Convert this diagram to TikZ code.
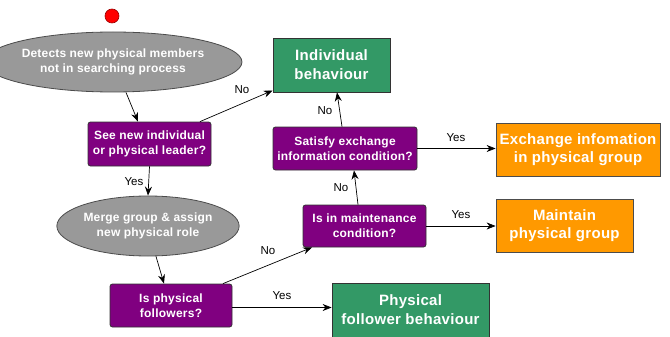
\documentclass[tikz,border=0pt]{standalone}
\usepackage{fontspec}
\setmainfont{Liberation Sans}
\usetikzlibrary{arrows.meta,shapes.geometric}
\definecolor{decpurple}{HTML}{800080}
\definecolor{actgreen}{HTML}{339966}
\definecolor{actorange}{HTML}{FF9900}
\definecolor{procgray}{HTML}{999999}
\begin{document}
\begin{tikzpicture}[x=1pt,y=-1pt,
  every node/.style={inner sep=0pt,align=center},
  proc/.style={ellipse,draw=black!70,fill=procgray,line width=0.8pt,text=white,
    font=\bfseries\fontsize{12}{15}\selectfont\addfontfeatures{LetterSpace=1.5}},
  decision/.style={rectangle,rounded corners=2.5pt,draw=black!80,fill=decpurple,line width=0.8pt,text=white,
    font=\bfseries\fontsize{12}{15}\selectfont\addfontfeatures{LetterSpace=2}},
  greenbox/.style={rectangle,draw=black!80,fill=actgreen,line width=0.8pt,text=white,
    font=\bfseries\fontsize{15}{19}\selectfont\addfontfeatures{LetterSpace=2}},
  orangebox/.style={rectangle,draw=black!70,fill=actorange,line width=0.8pt,text=white,
    font=\bfseries\fontsize{15}{18}\selectfont\addfontfeatures{LetterSpace=2}},
  flow/.style={-{Stealth[length=9pt,width=7pt]},line width=0.7pt},
  lbl/.style={font=\fontsize{11.5}{13}\selectfont,text=black}]
\useasboundingbox (0,0) rectangle (670,337);

% start marker
\node[circle,draw=red!60!black,fill=red,minimum size=14pt,line width=0.6pt] (start) at (112,16) {};

% process ellipses
\node[proc,minimum width=201pt,minimum height=60pt] (detect) at (113,62) {Detects new physical members\\not in searching process};
\node[proc,minimum width=144pt,minimum height=60pt] (merge) at (148,226) {Merge group \& assign\\new physical role};

% decisions
\node[decision,minimum width=123pt,minimum height=44pt] (seenew) at (149.5,144) {See new individual\\or physical leader?};
\node[decision,minimum width=144pt,minimum height=43pt] (satisfy) at (345,148.5) {Satisfy exchange\\information condition?};
\node[decision,minimum width=123pt,minimum height=42pt] (maint) at (364.5,226) {Is in maintenance\\condition?};
\node[decision,minimum width=122pt,minimum height=43pt] (isfol) at (171,305.5) {Is physical\\followers?};

% behaviours
\node[greenbox,minimum width=117pt,minimum height=54pt] (indiv) at (331.5,65) {Individual\\behaviour};
\node[greenbox,minimum width=157pt,minimum height=54pt] (follow) at (410.5,310) {Physical\\follower behaviour};
\node[orangebox,minimum width=164pt,minimum height=53pt] (exch) at (578,149.5) {Exchange infomation\\in physical group};
\node[orangebox,minimum width=137pt,minimum height=53pt] (keep) at (564.5,225.5) {Maintain\\physical group};

% connectors
\draw[flow] (detect.south -| 126,0) -- (seenew.north -| 138,0);
\draw[flow] (seenew.north -| 200,0) -- (indiv.south west |- 0,90.5);
\draw[flow] (seenew.south) -- (merge.north);
\draw[flow] (merge.south -| 156,0) -- (isfol.north -| 164,0);
\draw[flow] (isfol.north -| 223,0) -- (maint.south west -| 312,0);
\draw[flow] (isfol.east |- 0,307.5) -- (follow.west |- 0,307.5);
\draw[flow] (maint.north -| 358,0) -- (satisfy.south -| 354,0);
\draw[flow] (maint.east) -- (keep.west |- maint.east);
\draw[flow] (satisfy.north -| 342,0) -- (indiv.south -| 337,0);
\draw[flow] (satisfy.east) -- (exch.west |- satisfy.east);

% branch labels
\node[lbl] (l1) at (242,90) {No};
\node[lbl] (l2) at (134,182) {Yes};
\node[lbl] (l3) at (268,251) {No};
\node[lbl] (l4) at (282,296) {Yes};
\node[lbl] (l5) at (341,188) {No};
\node[lbl] (l6) at (461,215) {Yes};
\node[lbl] (l7) at (325,111) {No};
\node[lbl] (l8) at (456,138) {Yes};
\end{tikzpicture}
\end{document}
